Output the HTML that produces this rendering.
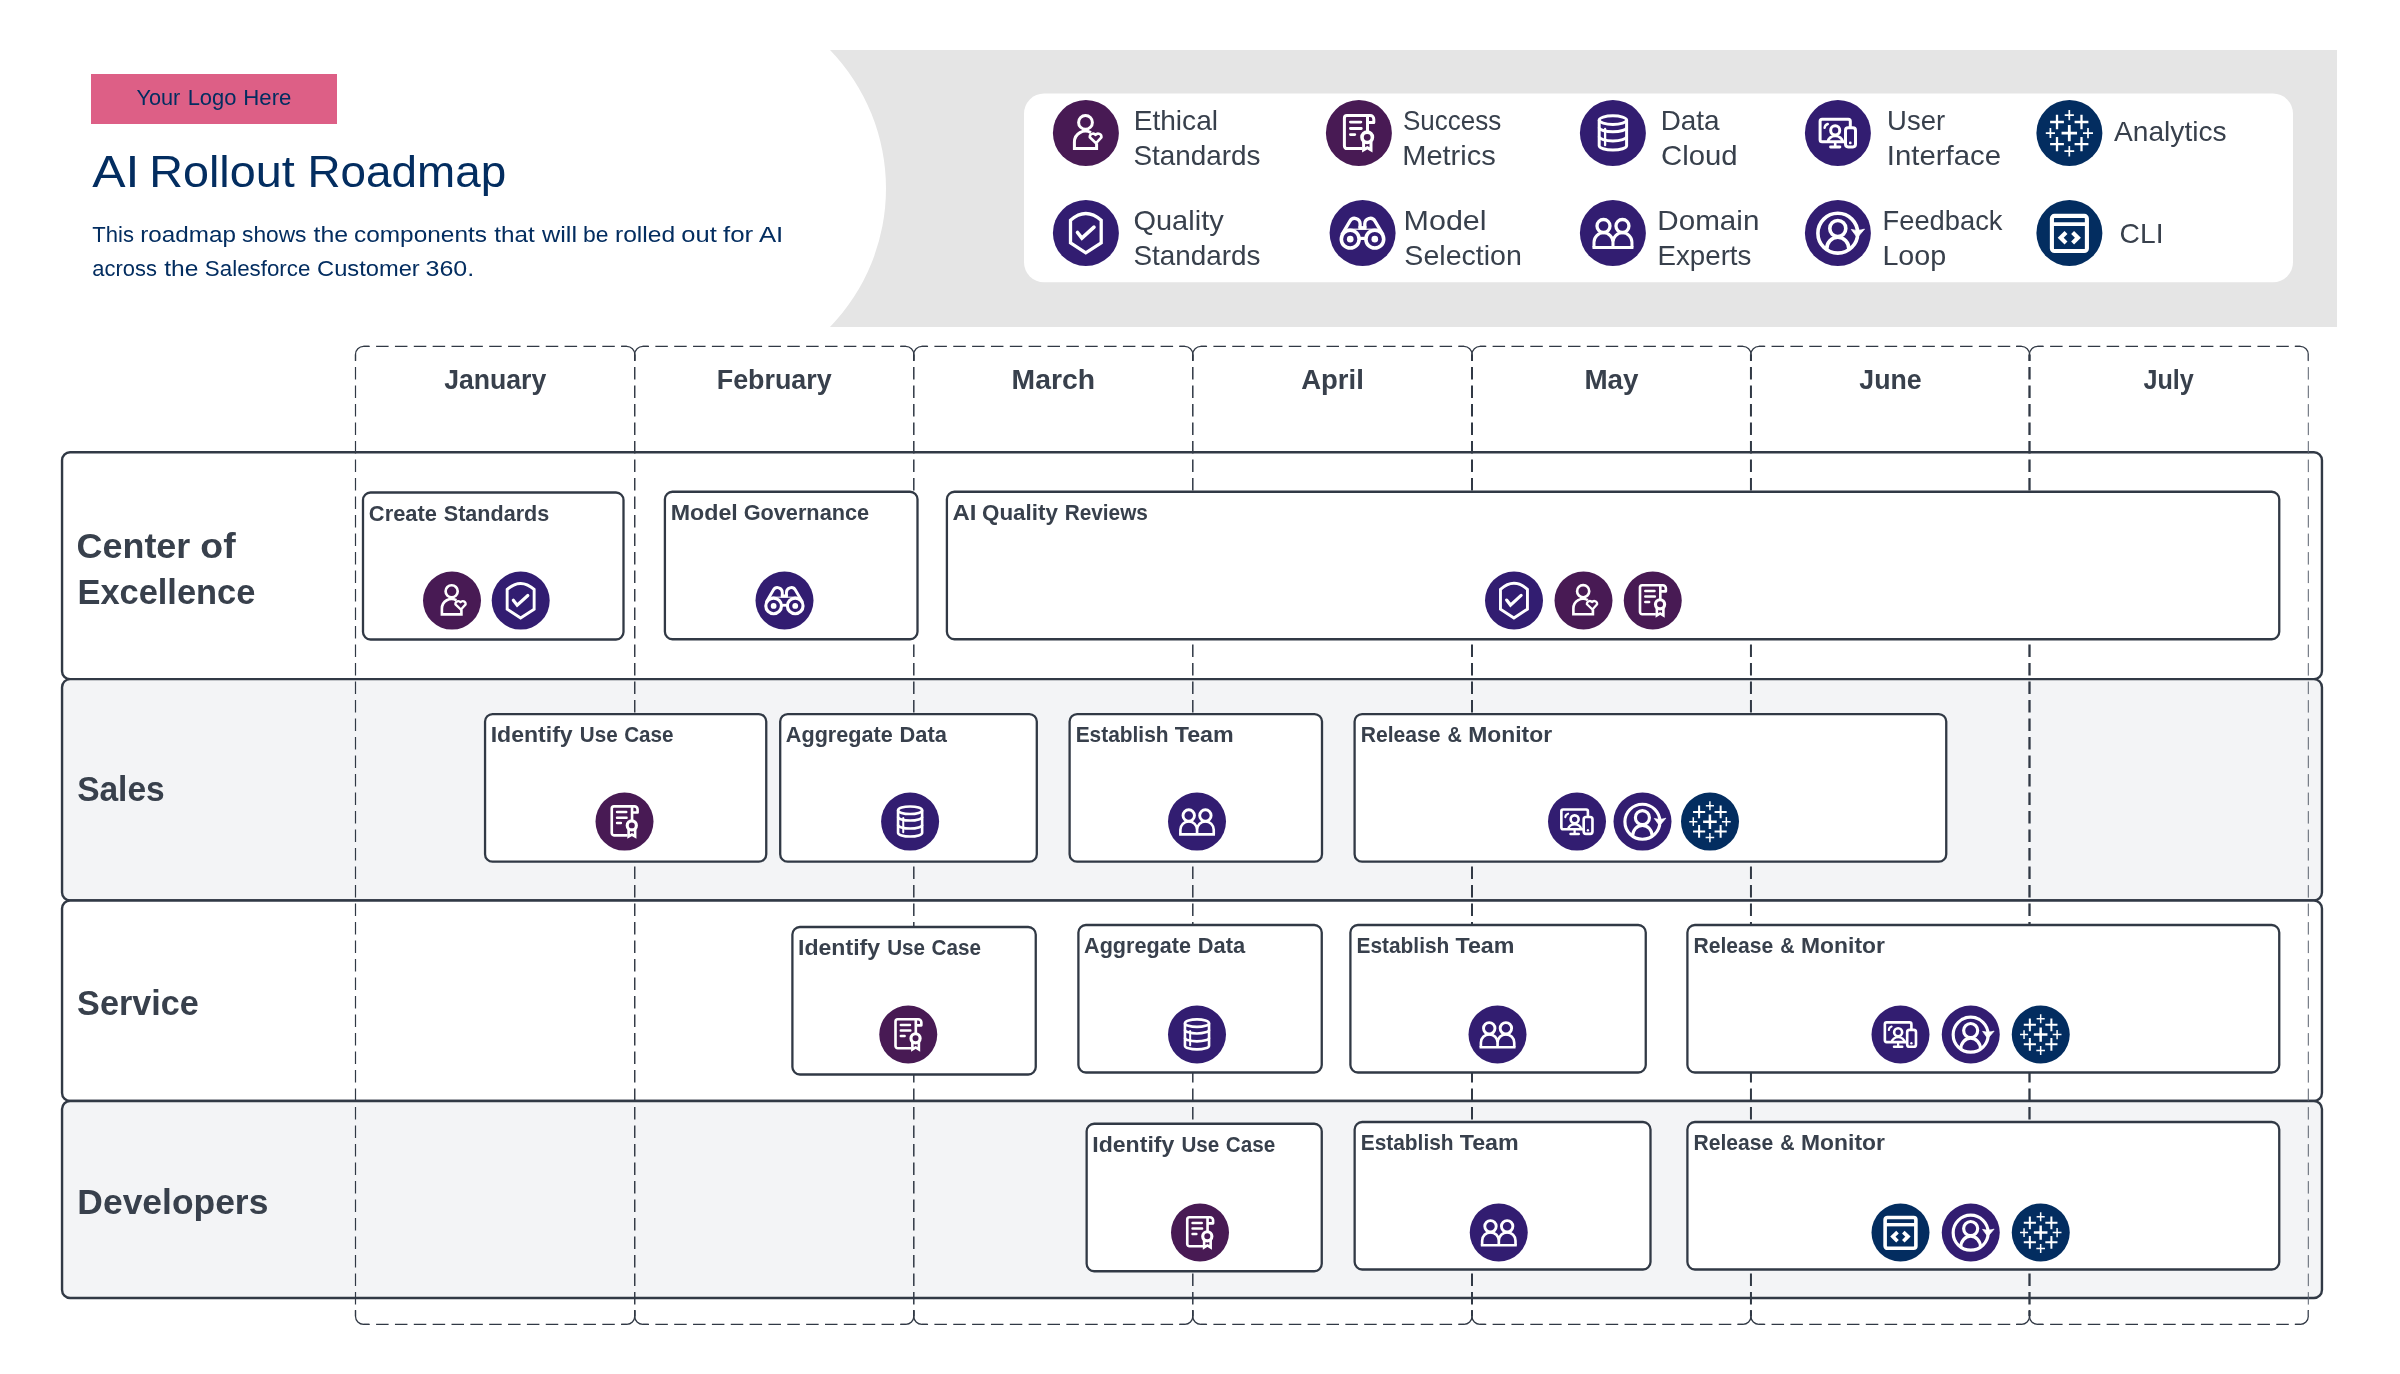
<!DOCTYPE html>
<html lang="en">
<head>
<meta charset="utf-8">
<title>AI Rollout Roadmap</title>
<style>
html,body{margin:0;padding:0;background:#fff;}
body{width:2400px;height:1374px;overflow:hidden;font-family:'Liberation Sans', sans-serif;}
svg{display:block;will-change:transform;}
svg text{font-family:'Liberation Sans', sans-serif;}
</style>
</head>
<body>
<svg width="2400" height="1374" viewBox="0 0 2400 1374">
<rect width="2400" height="1374" fill="#fff"/>
<!-- header -->
<rect x="91" y="74" width="246" height="50" fill="#DD5F86"/>
<text y="105.00" font-size="21.7" font-weight="400" fill="#032D60"><tspan x="136.47" textLength="43.82" lengthAdjust="spacingAndGlyphs">Your</tspan> <tspan x="187.65" textLength="48.75" lengthAdjust="spacingAndGlyphs">Logo</tspan> <tspan x="243.22" textLength="48.18" lengthAdjust="spacingAndGlyphs">Here</tspan></text>
<text y="186.50" font-size="45.2" font-weight="400" fill="#032D60"><tspan x="92.20" textLength="47.19" lengthAdjust="spacingAndGlyphs">AI</tspan> <tspan x="149.26" textLength="145.44" lengthAdjust="spacingAndGlyphs">Rollout</tspan> <tspan x="307.54" textLength="198.62" lengthAdjust="spacingAndGlyphs">Roadmap</tspan></text>
<text y="241.50" font-size="22.8" font-weight="400" fill="#032D60"><tspan x="92.36" textLength="41.60" lengthAdjust="spacingAndGlyphs">This</tspan> <tspan x="140.25" textLength="95.63" lengthAdjust="spacingAndGlyphs">roadmap</tspan> <tspan x="242.05" textLength="64.44" lengthAdjust="spacingAndGlyphs">shows</tspan> <tspan x="313.50" textLength="34.60" lengthAdjust="spacingAndGlyphs">the</tspan> <tspan x="354.02" textLength="132.96" lengthAdjust="spacingAndGlyphs">components</tspan> <tspan x="494.26" textLength="40.39" lengthAdjust="spacingAndGlyphs">that</tspan> <tspan x="542.00" textLength="35.07" lengthAdjust="spacingAndGlyphs">will</tspan> <tspan x="583.13" textLength="25.45" lengthAdjust="spacingAndGlyphs">be</tspan> <tspan x="614.97" textLength="60.16" lengthAdjust="spacingAndGlyphs">rolled</tspan> <tspan x="681.38" textLength="35.47" lengthAdjust="spacingAndGlyphs">out</tspan> <tspan x="722.99" textLength="30.25" lengthAdjust="spacingAndGlyphs">for</tspan> <tspan x="758.90" textLength="24.37" lengthAdjust="spacingAndGlyphs">AI</tspan></text>
<text y="276.00" font-size="22.8" font-weight="400" fill="#032D60"><tspan x="92.37" textLength="64.53" lengthAdjust="spacingAndGlyphs">across</tspan> <tspan x="164.25" textLength="34.13" lengthAdjust="spacingAndGlyphs">the</tspan> <tspan x="204.86" textLength="105.50" lengthAdjust="spacingAndGlyphs">Salesforce</tspan> <tspan x="317.07" textLength="102.64" lengthAdjust="spacingAndGlyphs">Customer</tspan> <tspan x="425.50" textLength="48.70" lengthAdjust="spacingAndGlyphs">360.</tspan></text>
<!-- legend banner -->
<path d="M830 50H2337V327H830A199.3 199.3 0 0 0 830 50Z" fill="#E5E5E5"/>
<rect x="1024" y="93.6" width="1269" height="188.7" rx="20" fill="#fff"/>
<g transform="translate(1052.90 100.00) scale(1.0000)"><circle cx="33" cy="33" r="33" fill="#481A54"/>
<path d="M43.7 43.2V48.6H21.5V42.1A11 11 0 0 1 38.0 32.6" fill="none" stroke="#fff" stroke-width="3" stroke-linejoin="miter"/>
<circle cx="32.6" cy="22.4" r="6.9" fill="#481A54" stroke="#fff" stroke-width="3"/>
<path d="M43.2 43.2L36.9 37.3A3.3 3.3 0 0 1 42.7 34.8A3.3 3.3 0 0 1 48.5 37.3Z" fill="#481A54" stroke="#fff" stroke-width="2.6" stroke-linejoin="round"/></g>
<text x="1133.65" y="129.90" font-size="28.0" font-weight="400" fill="#38404C" textLength="84.40" lengthAdjust="spacingAndGlyphs">Ethical</text>
<text x="1133.49" y="164.75" font-size="28.0" font-weight="400" fill="#38404C" textLength="127.05" lengthAdjust="spacingAndGlyphs">Standards</text>
<g transform="translate(1325.90 100.00) scale(1.0000)"><circle cx="33" cy="33" r="33" fill="#481A54"/>
<path d="M36.5 48.6H21A2.5 2.5 0 0 1 18.5 46.1V18.1A2.5 2.5 0 0 1 21 15.6H44.3A3.6 3.6 0 0 1 47.9 19.2V22.6H42" fill="none" stroke="#fff" stroke-width="3" stroke-linejoin="round"/>
<path d="M41.6 16V31.5" fill="none" stroke="#fff" stroke-width="3"/>
<path d="M24.5 22.1H35M24.5 28.5H35.4M24.5 34.6H28.9" fill="none" stroke="#fff" stroke-width="2.8" stroke-linecap="round"/>
<path d="M37.7 41.5V49.9L41.4 47.7L45.1 49.9V41.5" fill="none" stroke="#fff" stroke-width="3" stroke-linejoin="miter"/>
<circle cx="41.3" cy="37.3" r="5.2" fill="#481A54" stroke="#fff" stroke-width="3.6"/></g>
<text x="1402.96" y="129.70" font-size="28.0" font-weight="400" fill="#38404C" textLength="98.42" lengthAdjust="spacingAndGlyphs">Success</text>
<text x="1402.17" y="164.75" font-size="28.0" font-weight="400" fill="#38404C" textLength="93.70" lengthAdjust="spacingAndGlyphs">Metrics</text>
<g transform="translate(1579.90 100.00) scale(1.0000)"><circle cx="33" cy="33" r="33" fill="#321D71"/>
<ellipse cx="33" cy="20.1" rx="13.7" ry="4.3" fill="none" stroke="#fff" stroke-width="3"/>
<path d="M19.3 20.1V45.7A13.7 4.3 0 0 0 46.7 45.7V20.1" fill="none" stroke="#fff" stroke-width="3"/>
<path d="M19.3 27.5A13.7 4.3 0 0 0 46.7 27.5M19.3 36.6A13.7 4.3 0 0 0 46.7 36.6" fill="none" stroke="#fff" stroke-width="3"/>
<path d="M25.2 29V45.2" fill="none" stroke="#fff" stroke-width="2.3" stroke-linecap="round"/></g>
<text x="1660.67" y="129.70" font-size="28.0" font-weight="400" fill="#38404C" textLength="58.92" lengthAdjust="spacingAndGlyphs">Data</text>
<text x="1661.03" y="164.75" font-size="28.0" font-weight="400" fill="#38404C" textLength="76.61" lengthAdjust="spacingAndGlyphs">Cloud</text>
<g transform="translate(1804.90 100.00) scale(1.0000)"><circle cx="33" cy="33" r="33" fill="#321D71"/>
<path d="M45.4 27V21.2A2 2 0 0 0 43.4 19.2H17.2A2 2 0 0 0 15.2 21.2V39.65A2 2 0 0 0 17.2 41.65H40" fill="none" stroke="#fff" stroke-width="3"/>
<path d="M30.3 41.65V46.8" fill="none" stroke="#fff" stroke-width="2.6"/>
<path d="M25.6 47H35" fill="none" stroke="#fff" stroke-width="2.8" stroke-linecap="round"/>
<circle cx="30.3" cy="30.4" r="4.55" fill="none" stroke="#fff" stroke-width="3"/>
<path d="M23.2 41.6A7.15 5.6 0 0 1 37.5 41.6" fill="none" stroke="#fff" stroke-width="2.7"/>
<path d="M19.7 27.9A4.6 4.6 0 0 1 22.9 24.0" fill="none" stroke="#fff" stroke-width="2.4" stroke-linecap="round"/>
<rect x="40.6" y="27.8" width="10" height="19.1" rx="2.6" fill="#321D71" stroke="#fff" stroke-width="3"/>
<circle cx="45.4" cy="42.9" r="1.35" fill="#fff"/></g>
<text x="1887.08" y="129.70" font-size="28.0" font-weight="400" fill="#38404C" textLength="57.98" lengthAdjust="spacingAndGlyphs">User</text>
<text x="1886.86" y="164.75" font-size="28.0" font-weight="400" fill="#38404C" textLength="114.20" lengthAdjust="spacingAndGlyphs">Interface</text>
<g transform="translate(2036.40 100.00) scale(1.0000)"><circle cx="33" cy="33" r="33" fill="#032D60"/>
<path d="M25.15 33.10H40.65M32.90 24.90V41.30" fill="none" stroke="#fff" stroke-width="2.8"/>
<path d="M13.70 22.00H27.50M20.60 14.80V29.20M13.70 44.15H27.50M20.60 36.95V51.35M38.20 22.00H52.00M45.10 14.80V29.20M38.20 44.15H52.00M45.10 36.95V51.35" fill="none" stroke="#fff" stroke-width="2.3"/>
<path d="M28.30 15.05H37.50M32.90 9.95V20.15M28.00 51.20H37.80M32.90 46.00V56.40M9.40 33.10H18.60M14.00 28.10V38.10M46.60 33.10H56.60M51.60 27.90V38.30" fill="none" stroke="#fff" stroke-width="1.7"/></g>
<text x="2114.00" y="141.30" font-size="28.0" font-weight="400" fill="#38404C" textLength="112.64" lengthAdjust="spacingAndGlyphs">Analytics</text>
<g transform="translate(1052.90 200.00) scale(1.0000)"><circle cx="33" cy="33" r="33" fill="#321D71"/>
<path d="M17.6 20.3Q32.9 6.6 48.3 20.3V42.8L32.9 52.8L17.6 42.8Z" fill="none" stroke="#fff" stroke-width="3.3" stroke-linejoin="miter"/>
<path d="M24.6 32.5L29 38.2L41.1 27.2" fill="none" stroke="#fff" stroke-width="3.6" stroke-linecap="round" stroke-linejoin="miter"/></g>
<text x="1133.44" y="230.00" font-size="28.0" font-weight="400" fill="#38404C" textLength="90.26" lengthAdjust="spacingAndGlyphs">Quality</text>
<text x="1133.49" y="265.10" font-size="28.0" font-weight="400" fill="#38404C" textLength="127.05" lengthAdjust="spacingAndGlyphs">Standards</text>
<g transform="translate(1329.60 200.00) scale(1.0000)"><circle cx="33" cy="33" r="33" fill="#321D71"/>
<path d="M12.2 34.9L20.33 21.05A5.46 5.46 0 0 1 30.5 23.81V28.2M53.5 34.9L45.37 21.05A5.46 5.46 0 0 0 35.2 23.81V28.2" fill="none" stroke="#fff" stroke-width="3.3" stroke-linejoin="round"/>
<rect x="28.85" y="26.1" width="8" height="3.6" fill="#fff"/>
<path d="M17.6 29.2H48.1" fill="none" stroke="#fff" stroke-width="1.2"/>
<path d="M29 38.4H37" fill="none" stroke="#fff" stroke-width="3.2"/>
<circle cx="20.63" cy="39.13" r="8.9" fill="#321D71" stroke="#fff" stroke-width="3.6"/>
<circle cx="45.2" cy="39.13" r="8.9" fill="#321D71" stroke="#fff" stroke-width="3.6"/>
<circle cx="20.63" cy="39.13" r="3.3" fill="#fff"/>
<circle cx="45.2" cy="39.13" r="3.3" fill="#fff"/></g>
<text x="1403.56" y="230.00" font-size="28.0" font-weight="400" fill="#38404C" textLength="83.03" lengthAdjust="spacingAndGlyphs">Model</text>
<text x="1404.36" y="265.10" font-size="28.0" font-weight="400" fill="#38404C" textLength="117.55" lengthAdjust="spacingAndGlyphs">Selection</text>
<g transform="translate(1579.90 200.00) scale(1.0000)"><circle cx="33" cy="33" r="33" fill="#321D71"/>
<path d="M14.1 47.5V42.3A9.5 9.5 0 0 1 33.1 42.3V47.5M33.05 47.5V42.3A9.5 9.5 0 0 1 52.05 42.3V47.5" fill="none" stroke="#fff" stroke-width="3"/>
<path d="M12.6 47.5H53.5" fill="none" stroke="#fff" stroke-width="3"/>
<circle cx="23.6" cy="26" r="6.5" fill="#321D71" stroke="#fff" stroke-width="3.3"/>
<circle cx="42.55" cy="26" r="6.5" fill="#321D71" stroke="#fff" stroke-width="3.3"/></g>
<text x="1657.33" y="230.00" font-size="28.0" font-weight="400" fill="#38404C" textLength="102.08" lengthAdjust="spacingAndGlyphs">Domain</text>
<text x="1657.48" y="265.10" font-size="28.0" font-weight="400" fill="#38404C" textLength="93.95" lengthAdjust="spacingAndGlyphs">Experts</text>
<g transform="translate(1804.90 200.00) scale(1.0000)"><circle cx="33" cy="33" r="33" fill="#321D71"/>
<circle cx="32.9" cy="33.2" r="19.9" fill="none" stroke="#fff" stroke-width="3.6"/>
<path d="M21.7 49.5A11.2 12.3 0 0 1 44.1 49.5" fill="none" stroke="#fff" stroke-width="3.6"/>
<circle cx="32.9" cy="28.5" r="8" fill="#321D71" stroke="#fff" stroke-width="3.6"/>
<path d="M46.4 29.4L52.4 37.6L59.6 29.1C55 30.6 51 30.6 46.4 29.4Z" fill="#fff" stroke="#fff" stroke-width="0.8" stroke-linejoin="round"/></g>
<text x="1882.51" y="230.00" font-size="28.0" font-weight="400" fill="#38404C" textLength="120.01" lengthAdjust="spacingAndGlyphs">Feedback</text>
<text x="1882.40" y="265.10" font-size="28.0" font-weight="400" fill="#38404C" textLength="63.89" lengthAdjust="spacingAndGlyphs">Loop</text>
<g transform="translate(2036.40 200.00) scale(1.0000)"><circle cx="33" cy="33" r="33" fill="#032D60"/>
<rect x="15.5" y="15.9" width="35" height="35.1" rx="2.6" fill="none" stroke="#fff" stroke-width="4.1"/>
<path d="M15.5 24.1H50.5" fill="none" stroke="#fff" stroke-width="3.9"/>
<path d="M29.6 32.6L24.3 37.7L29.6 42.9M36.2 32.6L41.5 37.7L36.2 42.9" fill="none" stroke="#fff" stroke-width="4.2" stroke-linejoin="miter"/></g>
<text x="2119.59" y="243.00" font-size="28.0" font-weight="400" fill="#38404C" textLength="43.89" lengthAdjust="spacingAndGlyphs">CLI</text>
<!-- swimlane rows -->
<rect x="62.05" y="452.25" width="2259.9" height="226.90" rx="8" fill="#fff" stroke="#313945" stroke-width="2.4"/>
<rect x="62.05" y="679.15" width="2259.9" height="221.30" rx="8" fill="#F3F4F6" stroke="#313945" stroke-width="2.4"/>
<rect x="62.05" y="900.45" width="2259.9" height="200.60" rx="8" fill="#fff" stroke="#313945" stroke-width="2.4"/>
<rect x="62.05" y="1101.05" width="2259.9" height="196.95" rx="8" fill="#F3F4F6" stroke="#313945" stroke-width="2.4"/>
<!-- month columns -->
<g fill="none" stroke="#313945">
<path d="M363.50 346.4H626.75" stroke-width="1.25" stroke-dasharray="12.5 6.35" stroke-dashoffset="6.25"/>
<path d="M363.50 1324.3H626.75" stroke-width="1.25" stroke-dasharray="12.5 6.35" stroke-dashoffset="6.25"/>
<path d="M355.50 360.7V354.4A8 8 0 0 1 363.50 346.4h5.5M621.25 346.4h5.5A8 8 0 0 1 634.75 354.4v6.3" stroke-width="1.25"/>
<path d="M355.50 1310.0V1316.3A8 8 0 0 0 363.50 1324.3h5.5M621.25 1324.3h5.5A8 8 0 0 0 634.75 1316.3v-6.3" stroke-width="1.25"/>
<path d="M642.75 346.4H905.80" stroke-width="1.25" stroke-dasharray="12.5 6.35" stroke-dashoffset="6.25"/>
<path d="M642.75 1324.3H905.80" stroke-width="1.25" stroke-dasharray="12.5 6.35" stroke-dashoffset="6.25"/>
<path d="M634.75 360.7V354.4A8 8 0 0 1 642.75 346.4h5.5M900.30 346.4h5.5A8 8 0 0 1 913.80 354.4v6.3" stroke-width="1.25"/>
<path d="M634.75 1310.0V1316.3A8 8 0 0 0 642.75 1324.3h5.5M900.30 1324.3h5.5A8 8 0 0 0 913.80 1316.3v-6.3" stroke-width="1.25"/>
<path d="M921.80 346.4H1184.80" stroke-width="1.25" stroke-dasharray="12.5 6.35" stroke-dashoffset="6.25"/>
<path d="M921.80 1324.3H1184.80" stroke-width="1.25" stroke-dasharray="12.5 6.35" stroke-dashoffset="6.25"/>
<path d="M913.80 360.7V354.4A8 8 0 0 1 921.80 346.4h5.5M1179.30 346.4h5.5A8 8 0 0 1 1192.80 354.4v6.3" stroke-width="1.25"/>
<path d="M913.80 1310.0V1316.3A8 8 0 0 0 921.80 1324.3h5.5M1179.30 1324.3h5.5A8 8 0 0 0 1192.80 1316.3v-6.3" stroke-width="1.25"/>
<path d="M1200.80 346.4H1464.00" stroke-width="1.25" stroke-dasharray="12.5 6.35" stroke-dashoffset="6.25"/>
<path d="M1200.80 1324.3H1464.00" stroke-width="1.25" stroke-dasharray="12.5 6.35" stroke-dashoffset="6.25"/>
<path d="M1192.80 360.7V354.4A8 8 0 0 1 1200.80 346.4h5.5M1458.50 346.4h5.5A8 8 0 0 1 1472.00 354.4v6.3" stroke-width="1.25"/>
<path d="M1192.80 1310.0V1316.3A8 8 0 0 0 1200.80 1324.3h5.5M1458.50 1324.3h5.5A8 8 0 0 0 1472.00 1316.3v-6.3" stroke-width="1.25"/>
<path d="M1480.00 346.4H1742.95" stroke-width="1.25" stroke-dasharray="12.5 6.35" stroke-dashoffset="6.25"/>
<path d="M1480.00 1324.3H1742.95" stroke-width="1.25" stroke-dasharray="12.5 6.35" stroke-dashoffset="6.25"/>
<path d="M1472.00 360.7V354.4A8 8 0 0 1 1480.00 346.4h5.5M1737.45 346.4h5.5A8 8 0 0 1 1750.95 354.4v6.3" stroke-width="1.25"/>
<path d="M1472.00 1310.0V1316.3A8 8 0 0 0 1480.00 1324.3h5.5M1737.45 1324.3h5.5A8 8 0 0 0 1750.95 1316.3v-6.3" stroke-width="1.25"/>
<path d="M1758.95 346.4H2021.50" stroke-width="1.25" stroke-dasharray="12.5 6.35" stroke-dashoffset="6.25"/>
<path d="M1758.95 1324.3H2021.50" stroke-width="1.25" stroke-dasharray="12.5 6.35" stroke-dashoffset="6.25"/>
<path d="M1750.95 360.7V354.4A8 8 0 0 1 1758.95 346.4h5.5M2016.00 346.4h5.5A8 8 0 0 1 2029.50 354.4v6.3" stroke-width="1.25"/>
<path d="M1750.95 1310.0V1316.3A8 8 0 0 0 1758.95 1324.3h5.5M2016.00 1324.3h5.5A8 8 0 0 0 2029.50 1316.3v-6.3" stroke-width="1.25"/>
<path d="M2037.50 346.4H2300.30" stroke-width="1.25" stroke-dasharray="12.5 6.35" stroke-dashoffset="6.25"/>
<path d="M2037.50 1324.3H2300.30" stroke-width="1.25" stroke-dasharray="12.5 6.35" stroke-dashoffset="6.25"/>
<path d="M2029.50 360.7V354.4A8 8 0 0 1 2037.50 346.4h5.5M2294.80 346.4h5.5A8 8 0 0 1 2308.30 354.4v6.3" stroke-width="1.25"/>
<path d="M2029.50 1310.0V1316.3A8 8 0 0 0 2037.50 1324.3h5.5M2294.80 1324.3h5.5A8 8 0 0 0 2308.30 1316.3v-6.3" stroke-width="1.25"/>
<path d="M355.50 354.4V1316.3" stroke-width="1.2" stroke-dasharray="12.5 6" stroke-dashoffset="5.8"/>
<path d="M634.75 354.4V1316.3" stroke-width="1.45" stroke-dasharray="12.5 6" stroke-dashoffset="5.8"/>
<path d="M913.80 354.4V1316.3" stroke-width="1.5" stroke-dasharray="12.5 6" stroke-dashoffset="5.8"/>
<path d="M1192.80 354.4V1316.3" stroke-width="1.5" stroke-dasharray="12.5 6" stroke-dashoffset="5.8"/>
<path d="M1472.00 354.4V1316.3" stroke-width="2.0" stroke-dasharray="12.5 6" stroke-dashoffset="5.8"/>
<path d="M1750.95 354.4V1316.3" stroke-width="2.0" stroke-dasharray="12.5 6" stroke-dashoffset="5.8"/>
<path d="M2029.50 354.4V1316.3" stroke-width="2.3" stroke-dasharray="12.5 6" stroke-dashoffset="5.8"/>
<path d="M2308.30 354.4V1316.3" stroke-width="1.0" stroke="#59616D" stroke-dasharray="12.5 6" stroke-dashoffset="5.8"/>
</g>
<text x="444.13" y="388.90" font-size="28.3" font-weight="700" fill="#38404C" textLength="102.16" lengthAdjust="spacingAndGlyphs">January</text>
<text x="716.79" y="388.90" font-size="28.3" font-weight="700" fill="#38404C" textLength="114.91" lengthAdjust="spacingAndGlyphs">February</text>
<text x="1011.60" y="388.90" font-size="28.3" font-weight="700" fill="#38404C" textLength="83.42" lengthAdjust="spacingAndGlyphs">March</text>
<text x="1301.15" y="388.90" font-size="28.3" font-weight="700" fill="#38404C" textLength="62.72" lengthAdjust="spacingAndGlyphs">April</text>
<text x="1584.43" y="388.90" font-size="28.3" font-weight="700" fill="#38404C" textLength="54.06" lengthAdjust="spacingAndGlyphs">May</text>
<text x="1859.33" y="388.90" font-size="28.3" font-weight="700" fill="#38404C" textLength="62.26" lengthAdjust="spacingAndGlyphs">June</text>
<text x="2143.45" y="388.90" font-size="28.3" font-weight="700" fill="#38404C" textLength="50.35" lengthAdjust="spacingAndGlyphs">July</text>
<!-- row labels -->
<text y="557.70" font-size="35.8" font-weight="700" fill="#38404C"><tspan x="76.56" textLength="113.77" lengthAdjust="spacingAndGlyphs">Center</tspan> <tspan x="200.38" textLength="35.36" lengthAdjust="spacingAndGlyphs">of</tspan></text>
<text x="77.43" y="603.50" font-size="35.8" font-weight="700" fill="#38404C" textLength="177.97" lengthAdjust="spacingAndGlyphs">Excellence</text>
<text x="77.13" y="801.00" font-size="35.8" font-weight="700" fill="#38404C" textLength="87.58" lengthAdjust="spacingAndGlyphs">Sales</text>
<text x="77.12" y="1014.80" font-size="35.8" font-weight="700" fill="#38404C" textLength="121.58" lengthAdjust="spacingAndGlyphs">Service</text>
<text x="77.37" y="1213.90" font-size="35.8" font-weight="700" fill="#38404C" textLength="191.01" lengthAdjust="spacingAndGlyphs">Developers</text>
<!-- tasks -->
<rect x="363.0" y="492.5" width="260.50" height="147.00" rx="7.5" fill="#fff" stroke="#313945" stroke-width="2.3"/>
<text y="520.50" font-size="22.5" font-weight="700" fill="#38404C"><tspan x="368.86" textLength="68.11" lengthAdjust="spacingAndGlyphs">Create</tspan> <tspan x="443.77" textLength="105.41" lengthAdjust="spacingAndGlyphs">Standards</tspan></text>
<g transform="translate(423.00 571.60) scale(0.8788)"><circle cx="33" cy="33" r="33" fill="#481A54"/>
<path d="M43.7 43.2V48.6H21.5V42.1A11 11 0 0 1 38.0 32.6" fill="none" stroke="#fff" stroke-width="3" stroke-linejoin="miter"/>
<circle cx="32.6" cy="22.4" r="6.9" fill="#481A54" stroke="#fff" stroke-width="3"/>
<path d="M43.2 43.2L36.9 37.3A3.3 3.3 0 0 1 42.7 34.8A3.3 3.3 0 0 1 48.5 37.3Z" fill="#481A54" stroke="#fff" stroke-width="2.6" stroke-linejoin="round"/></g>
<g transform="translate(491.70 571.60) scale(0.8788)"><circle cx="33" cy="33" r="33" fill="#321D71"/>
<path d="M17.6 20.3Q32.9 6.6 48.3 20.3V42.8L32.9 52.8L17.6 42.8Z" fill="none" stroke="#fff" stroke-width="3.3" stroke-linejoin="miter"/>
<path d="M24.6 32.5L29 38.2L41.1 27.2" fill="none" stroke="#fff" stroke-width="3.6" stroke-linecap="round" stroke-linejoin="miter"/></g>
<rect x="664.9" y="491.75" width="252.60" height="147.50" rx="7.5" fill="#fff" stroke="#313945" stroke-width="2.3"/>
<text y="519.75" font-size="22.5" font-weight="700" fill="#38404C"><tspan x="670.66" textLength="67.12" lengthAdjust="spacingAndGlyphs">Model</tspan> <tspan x="743.63" textLength="125.49" lengthAdjust="spacingAndGlyphs">Governance</tspan></text>
<g transform="translate(755.50 571.50) scale(0.8788)"><circle cx="33" cy="33" r="33" fill="#321D71"/>
<path d="M12.2 34.9L20.33 21.05A5.46 5.46 0 0 1 30.5 23.81V28.2M53.5 34.9L45.37 21.05A5.46 5.46 0 0 0 35.2 23.81V28.2" fill="none" stroke="#fff" stroke-width="3.3" stroke-linejoin="round"/>
<rect x="28.85" y="26.1" width="8" height="3.6" fill="#fff"/>
<path d="M17.6 29.2H48.1" fill="none" stroke="#fff" stroke-width="1.2"/>
<path d="M29 38.4H37" fill="none" stroke="#fff" stroke-width="3.2"/>
<circle cx="20.63" cy="39.13" r="8.9" fill="#321D71" stroke="#fff" stroke-width="3.6"/>
<circle cx="45.2" cy="39.13" r="8.9" fill="#321D71" stroke="#fff" stroke-width="3.6"/>
<circle cx="20.63" cy="39.13" r="3.3" fill="#fff"/>
<circle cx="45.2" cy="39.13" r="3.3" fill="#fff"/></g>
<rect x="946.9" y="491.75" width="1332.35" height="147.50" rx="7.5" fill="#fff" stroke="#313945" stroke-width="2.3"/>
<text y="519.75" font-size="22.5" font-weight="700" fill="#38404C"><tspan x="952.52" textLength="23.91" lengthAdjust="spacingAndGlyphs">AI</tspan> <tspan x="982.00" textLength="75.91" lengthAdjust="spacingAndGlyphs">Quality</tspan> <tspan x="1064.65" textLength="83.30" lengthAdjust="spacingAndGlyphs">Reviews</tspan></text>
<g transform="translate(1485.00 571.50) scale(0.8788)"><circle cx="33" cy="33" r="33" fill="#321D71"/>
<path d="M17.6 20.3Q32.9 6.6 48.3 20.3V42.8L32.9 52.8L17.6 42.8Z" fill="none" stroke="#fff" stroke-width="3.3" stroke-linejoin="miter"/>
<path d="M24.6 32.5L29 38.2L41.1 27.2" fill="none" stroke="#fff" stroke-width="3.6" stroke-linecap="round" stroke-linejoin="miter"/></g>
<g transform="translate(1554.50 571.50) scale(0.8788)"><circle cx="33" cy="33" r="33" fill="#481A54"/>
<path d="M43.7 43.2V48.6H21.5V42.1A11 11 0 0 1 38.0 32.6" fill="none" stroke="#fff" stroke-width="3" stroke-linejoin="miter"/>
<circle cx="32.6" cy="22.4" r="6.9" fill="#481A54" stroke="#fff" stroke-width="3"/>
<path d="M43.2 43.2L36.9 37.3A3.3 3.3 0 0 1 42.7 34.8A3.3 3.3 0 0 1 48.5 37.3Z" fill="#481A54" stroke="#fff" stroke-width="2.6" stroke-linejoin="round"/></g>
<g transform="translate(1623.75 571.50) scale(0.8788)"><circle cx="33" cy="33" r="33" fill="#481A54"/>
<path d="M36.5 48.6H21A2.5 2.5 0 0 1 18.5 46.1V18.1A2.5 2.5 0 0 1 21 15.6H44.3A3.6 3.6 0 0 1 47.9 19.2V22.6H42" fill="none" stroke="#fff" stroke-width="3" stroke-linejoin="round"/>
<path d="M41.6 16V31.5" fill="none" stroke="#fff" stroke-width="3"/>
<path d="M24.5 22.1H35M24.5 28.5H35.4M24.5 34.6H28.9" fill="none" stroke="#fff" stroke-width="2.8" stroke-linecap="round"/>
<path d="M37.7 41.5V49.9L41.4 47.7L45.1 49.9V41.5" fill="none" stroke="#fff" stroke-width="3" stroke-linejoin="miter"/>
<circle cx="41.3" cy="37.3" r="5.2" fill="#481A54" stroke="#fff" stroke-width="3.6"/></g>
<rect x="485.05" y="714.1" width="281.20" height="147.60" rx="7.5" fill="#fff" stroke="#313945" stroke-width="2.3"/>
<text y="742.10" font-size="22.5" font-weight="700" fill="#38404C"><tspan x="490.67" textLength="82.05" lengthAdjust="spacingAndGlyphs">Identify</tspan> <tspan x="579.86" textLength="37.83" lengthAdjust="spacingAndGlyphs">Use</tspan> <tspan x="624.17" textLength="49.37" lengthAdjust="spacingAndGlyphs">Case</tspan></text>
<g transform="translate(595.50 792.60) scale(0.8788)"><circle cx="33" cy="33" r="33" fill="#481A54"/>
<path d="M36.5 48.6H21A2.5 2.5 0 0 1 18.5 46.1V18.1A2.5 2.5 0 0 1 21 15.6H44.3A3.6 3.6 0 0 1 47.9 19.2V22.6H42" fill="none" stroke="#fff" stroke-width="3" stroke-linejoin="round"/>
<path d="M41.6 16V31.5" fill="none" stroke="#fff" stroke-width="3"/>
<path d="M24.5 22.1H35M24.5 28.5H35.4M24.5 34.6H28.9" fill="none" stroke="#fff" stroke-width="2.8" stroke-linecap="round"/>
<path d="M37.7 41.5V49.9L41.4 47.7L45.1 49.9V41.5" fill="none" stroke="#fff" stroke-width="3" stroke-linejoin="miter"/>
<circle cx="41.3" cy="37.3" r="5.2" fill="#481A54" stroke="#fff" stroke-width="3.6"/></g>
<rect x="780.2" y="714.1" width="256.60" height="147.60" rx="7.5" fill="#fff" stroke="#313945" stroke-width="2.3"/>
<text y="742.10" font-size="22.5" font-weight="700" fill="#38404C"><tspan x="785.87" textLength="106.90" lengthAdjust="spacingAndGlyphs">Aggregate</tspan> <tspan x="899.59" textLength="47.41" lengthAdjust="spacingAndGlyphs">Data</tspan></text>
<g transform="translate(881.10 792.60) scale(0.8788)"><circle cx="33" cy="33" r="33" fill="#321D71"/>
<ellipse cx="33" cy="20.1" rx="13.7" ry="4.3" fill="none" stroke="#fff" stroke-width="3"/>
<path d="M19.3 20.1V45.7A13.7 4.3 0 0 0 46.7 45.7V20.1" fill="none" stroke="#fff" stroke-width="3"/>
<path d="M19.3 27.5A13.7 4.3 0 0 0 46.7 27.5M19.3 36.6A13.7 4.3 0 0 0 46.7 36.6" fill="none" stroke="#fff" stroke-width="3"/>
<path d="M25.2 29V45.2" fill="none" stroke="#fff" stroke-width="2.3" stroke-linecap="round"/></g>
<rect x="1069.6" y="714.1" width="252.40" height="147.60" rx="7.5" fill="#fff" stroke="#313945" stroke-width="2.3"/>
<text y="742.10" font-size="22.5" font-weight="700" fill="#38404C"><tspan x="1075.65" textLength="92.93" lengthAdjust="spacingAndGlyphs">Establish</tspan> <tspan x="1174.67" textLength="59.01" lengthAdjust="spacingAndGlyphs">Team</tspan></text>
<g transform="translate(1168.00 792.60) scale(0.8788)"><circle cx="33" cy="33" r="33" fill="#321D71"/>
<path d="M14.1 47.5V42.3A9.5 9.5 0 0 1 33.1 42.3V47.5M33.05 47.5V42.3A9.5 9.5 0 0 1 52.05 42.3V47.5" fill="none" stroke="#fff" stroke-width="3"/>
<path d="M12.6 47.5H53.5" fill="none" stroke="#fff" stroke-width="3"/>
<circle cx="23.6" cy="26" r="6.5" fill="#321D71" stroke="#fff" stroke-width="3.3"/>
<circle cx="42.55" cy="26" r="6.5" fill="#321D71" stroke="#fff" stroke-width="3.3"/></g>
<rect x="1354.6" y="714.1" width="591.65" height="147.60" rx="7.5" fill="#fff" stroke="#313945" stroke-width="2.3"/>
<text y="742.10" font-size="22.5" font-weight="700" fill="#38404C"><tspan x="1360.73" textLength="79.72" lengthAdjust="spacingAndGlyphs">Release</tspan> <tspan x="1447.41" textLength="14.33" lengthAdjust="spacingAndGlyphs">&amp;</tspan> <tspan x="1468.23" textLength="83.88" lengthAdjust="spacingAndGlyphs">Monitor</tspan></text>
<g transform="translate(1548.00 792.60) scale(0.8788)"><circle cx="33" cy="33" r="33" fill="#321D71"/>
<path d="M45.4 27V21.2A2 2 0 0 0 43.4 19.2H17.2A2 2 0 0 0 15.2 21.2V39.65A2 2 0 0 0 17.2 41.65H40" fill="none" stroke="#fff" stroke-width="3"/>
<path d="M30.3 41.65V46.8" fill="none" stroke="#fff" stroke-width="2.6"/>
<path d="M25.6 47H35" fill="none" stroke="#fff" stroke-width="2.8" stroke-linecap="round"/>
<circle cx="30.3" cy="30.4" r="4.55" fill="none" stroke="#fff" stroke-width="3"/>
<path d="M23.2 41.6A7.15 5.6 0 0 1 37.5 41.6" fill="none" stroke="#fff" stroke-width="2.7"/>
<path d="M19.7 27.9A4.6 4.6 0 0 1 22.9 24.0" fill="none" stroke="#fff" stroke-width="2.4" stroke-linecap="round"/>
<rect x="40.6" y="27.8" width="10" height="19.1" rx="2.6" fill="#321D71" stroke="#fff" stroke-width="3"/>
<circle cx="45.4" cy="42.9" r="1.35" fill="#fff"/></g>
<g transform="translate(1613.50 792.60) scale(0.8788)"><circle cx="33" cy="33" r="33" fill="#321D71"/>
<circle cx="32.9" cy="33.2" r="19.9" fill="none" stroke="#fff" stroke-width="3.6"/>
<path d="M21.7 49.5A11.2 12.3 0 0 1 44.1 49.5" fill="none" stroke="#fff" stroke-width="3.6"/>
<circle cx="32.9" cy="28.5" r="8" fill="#321D71" stroke="#fff" stroke-width="3.6"/>
<path d="M46.4 29.4L52.4 37.6L59.6 29.1C55 30.6 51 30.6 46.4 29.4Z" fill="#fff" stroke="#fff" stroke-width="0.8" stroke-linejoin="round"/></g>
<g transform="translate(1681.00 792.60) scale(0.8788)"><circle cx="33" cy="33" r="33" fill="#032D60"/>
<path d="M25.15 33.10H40.65M32.90 24.90V41.30" fill="none" stroke="#fff" stroke-width="2.8"/>
<path d="M13.70 22.00H27.50M20.60 14.80V29.20M13.70 44.15H27.50M20.60 36.95V51.35M38.20 22.00H52.00M45.10 14.80V29.20M38.20 44.15H52.00M45.10 36.95V51.35" fill="none" stroke="#fff" stroke-width="2.3"/>
<path d="M28.30 15.05H37.50M32.90 9.95V20.15M28.00 51.20H37.80M32.90 46.00V56.40M9.40 33.10H18.60M14.00 28.10V38.10M46.60 33.10H56.60M51.60 27.90V38.30" fill="none" stroke="#fff" stroke-width="1.7"/></g>
<rect x="792.4" y="927.0" width="243.35" height="147.50" rx="7.5" fill="#fff" stroke="#313945" stroke-width="2.3"/>
<text y="955.00" font-size="22.5" font-weight="700" fill="#38404C"><tspan x="798.02" textLength="82.05" lengthAdjust="spacingAndGlyphs">Identify</tspan> <tspan x="887.21" textLength="37.83" lengthAdjust="spacingAndGlyphs">Use</tspan> <tspan x="931.52" textLength="49.37" lengthAdjust="spacingAndGlyphs">Case</tspan></text>
<g transform="translate(879.25 1005.50) scale(0.8788)"><circle cx="33" cy="33" r="33" fill="#481A54"/>
<path d="M36.5 48.6H21A2.5 2.5 0 0 1 18.5 46.1V18.1A2.5 2.5 0 0 1 21 15.6H44.3A3.6 3.6 0 0 1 47.9 19.2V22.6H42" fill="none" stroke="#fff" stroke-width="3" stroke-linejoin="round"/>
<path d="M41.6 16V31.5" fill="none" stroke="#fff" stroke-width="3"/>
<path d="M24.5 22.1H35M24.5 28.5H35.4M24.5 34.6H28.9" fill="none" stroke="#fff" stroke-width="2.8" stroke-linecap="round"/>
<path d="M37.7 41.5V49.9L41.4 47.7L45.1 49.9V41.5" fill="none" stroke="#fff" stroke-width="3" stroke-linejoin="miter"/>
<circle cx="41.3" cy="37.3" r="5.2" fill="#481A54" stroke="#fff" stroke-width="3.6"/></g>
<rect x="1078.4" y="925.0" width="243.35" height="147.50" rx="7.5" fill="#fff" stroke="#313945" stroke-width="2.3"/>
<text y="953.00" font-size="22.5" font-weight="700" fill="#38404C"><tspan x="1084.07" textLength="106.90" lengthAdjust="spacingAndGlyphs">Aggregate</tspan> <tspan x="1197.79" textLength="47.41" lengthAdjust="spacingAndGlyphs">Data</tspan></text>
<g transform="translate(1168.00 1005.50) scale(0.8788)"><circle cx="33" cy="33" r="33" fill="#321D71"/>
<ellipse cx="33" cy="20.1" rx="13.7" ry="4.3" fill="none" stroke="#fff" stroke-width="3"/>
<path d="M19.3 20.1V45.7A13.7 4.3 0 0 0 46.7 45.7V20.1" fill="none" stroke="#fff" stroke-width="3"/>
<path d="M19.3 27.5A13.7 4.3 0 0 0 46.7 27.5M19.3 36.6A13.7 4.3 0 0 0 46.7 36.6" fill="none" stroke="#fff" stroke-width="3"/>
<path d="M25.2 29V45.2" fill="none" stroke="#fff" stroke-width="2.3" stroke-linecap="round"/></g>
<rect x="1350.4" y="925.0" width="295.35" height="147.50" rx="7.5" fill="#fff" stroke="#313945" stroke-width="2.3"/>
<text y="953.00" font-size="22.5" font-weight="700" fill="#38404C"><tspan x="1356.45" textLength="92.93" lengthAdjust="spacingAndGlyphs">Establish</tspan> <tspan x="1455.47" textLength="59.01" lengthAdjust="spacingAndGlyphs">Team</tspan></text>
<g transform="translate(1468.50 1005.50) scale(0.8788)"><circle cx="33" cy="33" r="33" fill="#321D71"/>
<path d="M14.1 47.5V42.3A9.5 9.5 0 0 1 33.1 42.3V47.5M33.05 47.5V42.3A9.5 9.5 0 0 1 52.05 42.3V47.5" fill="none" stroke="#fff" stroke-width="3"/>
<path d="M12.6 47.5H53.5" fill="none" stroke="#fff" stroke-width="3"/>
<circle cx="23.6" cy="26" r="6.5" fill="#321D71" stroke="#fff" stroke-width="3.3"/>
<circle cx="42.55" cy="26" r="6.5" fill="#321D71" stroke="#fff" stroke-width="3.3"/></g>
<rect x="1687.4" y="925.0" width="591.85" height="147.50" rx="7.5" fill="#fff" stroke="#313945" stroke-width="2.3"/>
<text y="953.00" font-size="22.5" font-weight="700" fill="#38404C"><tspan x="1693.53" textLength="79.72" lengthAdjust="spacingAndGlyphs">Release</tspan> <tspan x="1780.21" textLength="14.33" lengthAdjust="spacingAndGlyphs">&amp;</tspan> <tspan x="1801.03" textLength="83.88" lengthAdjust="spacingAndGlyphs">Monitor</tspan></text>
<g transform="translate(1871.50 1005.50) scale(0.8788)"><circle cx="33" cy="33" r="33" fill="#321D71"/>
<path d="M45.4 27V21.2A2 2 0 0 0 43.4 19.2H17.2A2 2 0 0 0 15.2 21.2V39.65A2 2 0 0 0 17.2 41.65H40" fill="none" stroke="#fff" stroke-width="3"/>
<path d="M30.3 41.65V46.8" fill="none" stroke="#fff" stroke-width="2.6"/>
<path d="M25.6 47H35" fill="none" stroke="#fff" stroke-width="2.8" stroke-linecap="round"/>
<circle cx="30.3" cy="30.4" r="4.55" fill="none" stroke="#fff" stroke-width="3"/>
<path d="M23.2 41.6A7.15 5.6 0 0 1 37.5 41.6" fill="none" stroke="#fff" stroke-width="2.7"/>
<path d="M19.7 27.9A4.6 4.6 0 0 1 22.9 24.0" fill="none" stroke="#fff" stroke-width="2.4" stroke-linecap="round"/>
<rect x="40.6" y="27.8" width="10" height="19.1" rx="2.6" fill="#321D71" stroke="#fff" stroke-width="3"/>
<circle cx="45.4" cy="42.9" r="1.35" fill="#fff"/></g>
<g transform="translate(1941.75 1005.50) scale(0.8788)"><circle cx="33" cy="33" r="33" fill="#321D71"/>
<circle cx="32.9" cy="33.2" r="19.9" fill="none" stroke="#fff" stroke-width="3.6"/>
<path d="M21.7 49.5A11.2 12.3 0 0 1 44.1 49.5" fill="none" stroke="#fff" stroke-width="3.6"/>
<circle cx="32.9" cy="28.5" r="8" fill="#321D71" stroke="#fff" stroke-width="3.6"/>
<path d="M46.4 29.4L52.4 37.6L59.6 29.1C55 30.6 51 30.6 46.4 29.4Z" fill="#fff" stroke="#fff" stroke-width="0.8" stroke-linejoin="round"/></g>
<g transform="translate(2011.75 1005.50) scale(0.8788)"><circle cx="33" cy="33" r="33" fill="#032D60"/>
<path d="M25.15 33.10H40.65M32.90 24.90V41.30" fill="none" stroke="#fff" stroke-width="2.8"/>
<path d="M13.70 22.00H27.50M20.60 14.80V29.20M13.70 44.15H27.50M20.60 36.95V51.35M38.20 22.00H52.00M45.10 14.80V29.20M38.20 44.15H52.00M45.10 36.95V51.35" fill="none" stroke="#fff" stroke-width="2.3"/>
<path d="M28.30 15.05H37.50M32.90 9.95V20.15M28.00 51.20H37.80M32.90 46.00V56.40M9.40 33.10H18.60M14.00 28.10V38.10M46.60 33.10H56.60M51.60 27.90V38.30" fill="none" stroke="#fff" stroke-width="1.7"/></g>
<rect x="1086.65" y="1123.75" width="235.10" height="147.50" rx="7.5" fill="#fff" stroke="#313945" stroke-width="2.3"/>
<text y="1151.75" font-size="22.5" font-weight="700" fill="#38404C"><tspan x="1092.27" textLength="82.05" lengthAdjust="spacingAndGlyphs">Identify</tspan> <tspan x="1181.46" textLength="37.83" lengthAdjust="spacingAndGlyphs">Use</tspan> <tspan x="1225.77" textLength="49.37" lengthAdjust="spacingAndGlyphs">Case</tspan></text>
<g transform="translate(1171.00 1203.50) scale(0.8788)"><circle cx="33" cy="33" r="33" fill="#481A54"/>
<path d="M36.5 48.6H21A2.5 2.5 0 0 1 18.5 46.1V18.1A2.5 2.5 0 0 1 21 15.6H44.3A3.6 3.6 0 0 1 47.9 19.2V22.6H42" fill="none" stroke="#fff" stroke-width="3" stroke-linejoin="round"/>
<path d="M41.6 16V31.5" fill="none" stroke="#fff" stroke-width="3"/>
<path d="M24.5 22.1H35M24.5 28.5H35.4M24.5 34.6H28.9" fill="none" stroke="#fff" stroke-width="2.8" stroke-linecap="round"/>
<path d="M37.7 41.5V49.9L41.4 47.7L45.1 49.9V41.5" fill="none" stroke="#fff" stroke-width="3" stroke-linejoin="miter"/>
<circle cx="41.3" cy="37.3" r="5.2" fill="#481A54" stroke="#fff" stroke-width="3.6"/></g>
<rect x="1354.65" y="1122.0" width="295.85" height="147.50" rx="7.5" fill="#fff" stroke="#313945" stroke-width="2.3"/>
<text y="1150.00" font-size="22.5" font-weight="700" fill="#38404C"><tspan x="1360.70" textLength="92.93" lengthAdjust="spacingAndGlyphs">Establish</tspan> <tspan x="1459.72" textLength="59.01" lengthAdjust="spacingAndGlyphs">Team</tspan></text>
<g transform="translate(1469.75 1203.50) scale(0.8788)"><circle cx="33" cy="33" r="33" fill="#321D71"/>
<path d="M14.1 47.5V42.3A9.5 9.5 0 0 1 33.1 42.3V47.5M33.05 47.5V42.3A9.5 9.5 0 0 1 52.05 42.3V47.5" fill="none" stroke="#fff" stroke-width="3"/>
<path d="M12.6 47.5H53.5" fill="none" stroke="#fff" stroke-width="3"/>
<circle cx="23.6" cy="26" r="6.5" fill="#321D71" stroke="#fff" stroke-width="3.3"/>
<circle cx="42.55" cy="26" r="6.5" fill="#321D71" stroke="#fff" stroke-width="3.3"/></g>
<rect x="1687.4" y="1122.0" width="591.85" height="147.50" rx="7.5" fill="#fff" stroke="#313945" stroke-width="2.3"/>
<text y="1150.00" font-size="22.5" font-weight="700" fill="#38404C"><tspan x="1693.53" textLength="79.72" lengthAdjust="spacingAndGlyphs">Release</tspan> <tspan x="1780.21" textLength="14.33" lengthAdjust="spacingAndGlyphs">&amp;</tspan> <tspan x="1801.03" textLength="83.88" lengthAdjust="spacingAndGlyphs">Monitor</tspan></text>
<g transform="translate(1871.50 1203.50) scale(0.8788)"><circle cx="33" cy="33" r="33" fill="#032D60"/>
<rect x="15.5" y="15.9" width="35" height="35.1" rx="2.6" fill="none" stroke="#fff" stroke-width="4.1"/>
<path d="M15.5 24.1H50.5" fill="none" stroke="#fff" stroke-width="3.9"/>
<path d="M29.6 32.6L24.3 37.7L29.6 42.9M36.2 32.6L41.5 37.7L36.2 42.9" fill="none" stroke="#fff" stroke-width="4.2" stroke-linejoin="miter"/></g>
<g transform="translate(1941.75 1203.50) scale(0.8788)"><circle cx="33" cy="33" r="33" fill="#321D71"/>
<circle cx="32.9" cy="33.2" r="19.9" fill="none" stroke="#fff" stroke-width="3.6"/>
<path d="M21.7 49.5A11.2 12.3 0 0 1 44.1 49.5" fill="none" stroke="#fff" stroke-width="3.6"/>
<circle cx="32.9" cy="28.5" r="8" fill="#321D71" stroke="#fff" stroke-width="3.6"/>
<path d="M46.4 29.4L52.4 37.6L59.6 29.1C55 30.6 51 30.6 46.4 29.4Z" fill="#fff" stroke="#fff" stroke-width="0.8" stroke-linejoin="round"/></g>
<g transform="translate(2011.75 1203.50) scale(0.8788)"><circle cx="33" cy="33" r="33" fill="#032D60"/>
<path d="M25.15 33.10H40.65M32.90 24.90V41.30" fill="none" stroke="#fff" stroke-width="2.8"/>
<path d="M13.70 22.00H27.50M20.60 14.80V29.20M13.70 44.15H27.50M20.60 36.95V51.35M38.20 22.00H52.00M45.10 14.80V29.20M38.20 44.15H52.00M45.10 36.95V51.35" fill="none" stroke="#fff" stroke-width="2.3"/>
<path d="M28.30 15.05H37.50M32.90 9.95V20.15M28.00 51.20H37.80M32.90 46.00V56.40M9.40 33.10H18.60M14.00 28.10V38.10M46.60 33.10H56.60M51.60 27.90V38.30" fill="none" stroke="#fff" stroke-width="1.7"/></g>
</svg>
</body>
</html>
